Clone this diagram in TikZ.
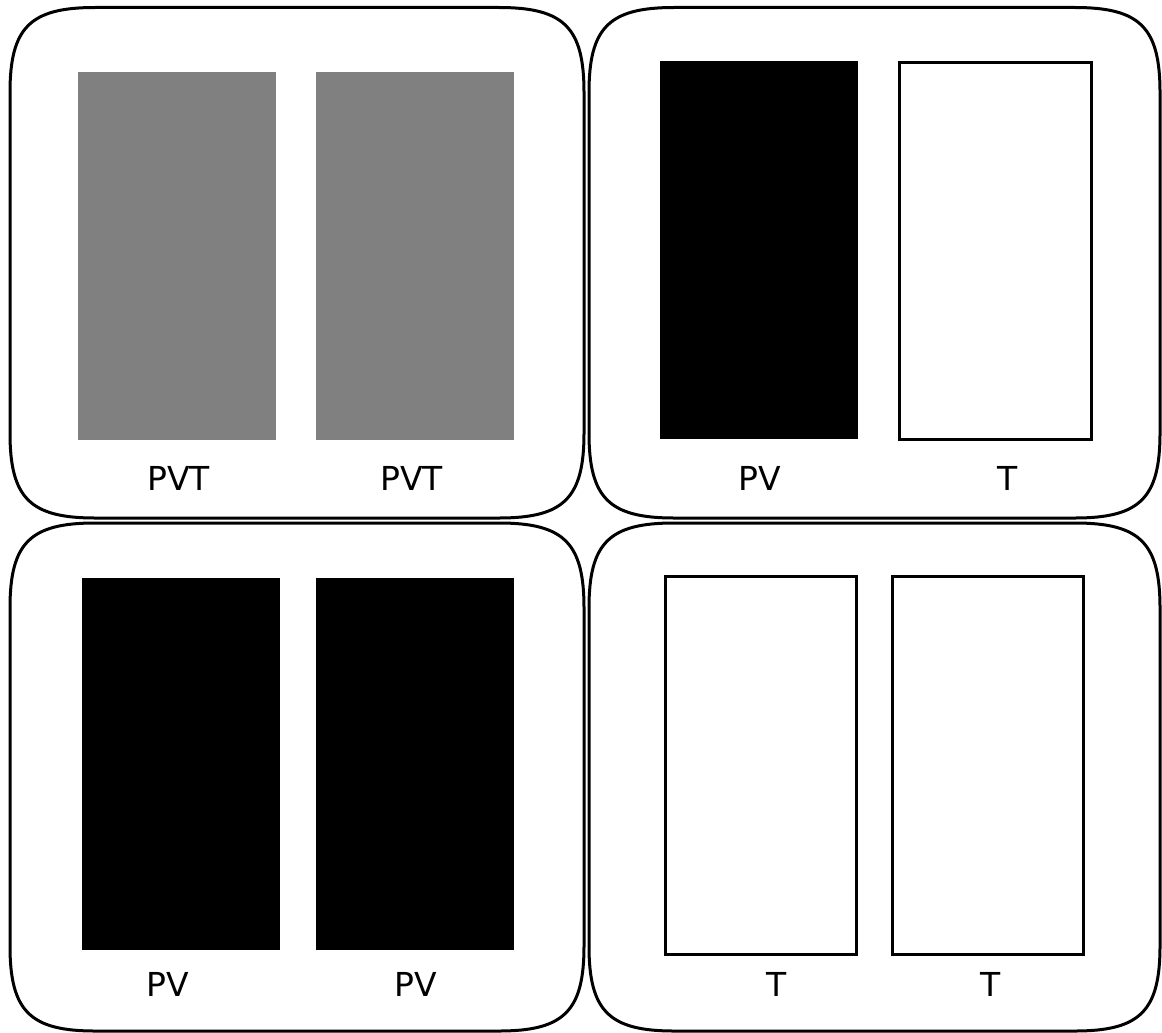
\documentclass[tikz,border=0pt]{standalone}
\usepackage{fontspec}
\setmainfont{DejaVu Sans}
\newcommand\sqpanel[5]{%
  \draw[panel] (#1,#2+85) .. controls (#1,#2+20) and (#1+20,#2) .. (#1+85,#2)
    -- (#3-85,#2) .. controls (#3-20,#2) and (#3,#2+20) .. (#3,#2+85)
    -- (#3,#4-85) .. controls (#3,#4-20) and (#3-20,#4) .. (#3-85,#4)
    -- (#1+85,#4) .. controls (#1+20,#4) and (#1,#4-20) .. (#1,#4-85) -- cycle;
  \coordinate (#5) at ({(#1+#3)/2},{(#2+#4)/2});}
\begin{document}
\begin{tikzpicture}[x=1pt,y=-1pt,
  panel/.style={draw=black,line width=3pt},
  grayrect/.style={fill={rgb,255:red,128;green,128;blue,128},draw=none},
  blackrect/.style={fill=black,draw=none},
  whiterect/.style={fill=white,draw=black,line width=3pt},
  lbl/.style={font=\fontsize{33}{40}\selectfont,inner sep=0pt,anchor=center}]
\useasboundingbox (0,0) rectangle (1162,1033);
\fill[white] (0,0) rectangle (1162,1033);
% panels
\sqpanel{10}{7.5}{584}{518}{tl}
\sqpanel{589}{7.5}{1160}{518}{tr}
\sqpanel{10}{523}{584}{1031}{bl}
\sqpanel{589}{523}{1160}{1031}{br}
% top-left
\fill[grayrect] (78,72) rectangle (276,440);
\fill[grayrect] (316,72) rectangle (514,440);
\node[lbl] (a1) at (178.5,478) {PVT};
\node[lbl] (a2) at (411.5,478) {PVT};
% top-right
\fill[blackrect] (660,61) rectangle (858,439);
\draw[whiterect] (899.5,62.5) rectangle (1091.5,439.5);
\node[lbl] (b1) at (760,478) {PV};
\node[lbl] (b2) at (1008,478) {T};
% bottom-left
\fill[blackrect] (82,578) rectangle (280,950);
\fill[blackrect] (316,578) rectangle (514,950);
\node[lbl] (c1) at (168,984) {PV};
\node[lbl] (c2) at (416,984) {PV};
% bottom-right
\draw[whiterect] (665.5,576.5) rectangle (856.5,954.5);
\draw[whiterect] (892.5,576.5) rectangle (1083.5,954.5);
\node[lbl] (d1) at (777,984) {T};
\node[lbl] (d2) at (990.5,984) {T};
\end{tikzpicture}
\end{document}
